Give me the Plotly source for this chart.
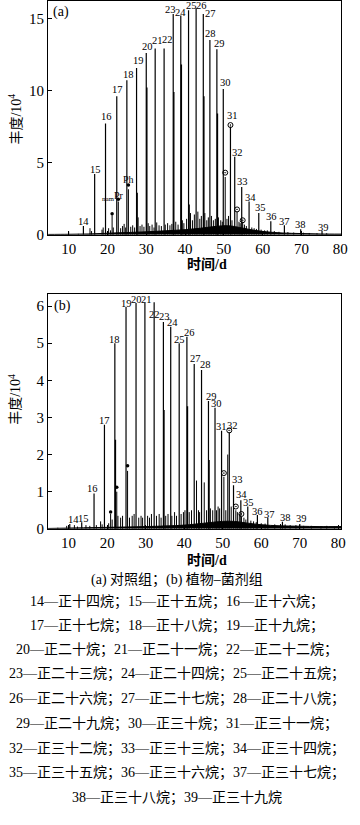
import plotly.graph_objects as go

# ---------------- data: panel (a) control group ----------------
alk_num = list(range(14, 40))
alk_a_t = [13.8, 16.7, 19.5, 22.4, 25.0, 27.5, 30.0, 32.3, 34.6, 36.95, 38.9, 40.9, 42.85,
           44.7, 46.4, 48.2, 49.85, 51.7, 52.8, 54.6, 56.5, 59.0, 62.1, 65.6, 69.8, 75.3]
alk_a_h = [0.6, 4.2, 7.7, 9.6, 10.7, 11.55, 12.6, 12.9, 12.9, 15.3, 15.2, 15.55, 15.7,
           15.3, 13.5, 12.85, 10.1, 7.5, 5.4, 3.3, 2.3, 1.5, 0.94, 0.66, 0.37, 0.25]

sub_a_t = [30.15, 37.1, 39.05, 44.85, 48.35, 27.65, 41.05]
sub_a_h = [10.2, 9.9, 11.8, 9.6, 8.4, 2.9, 2.1]

minor_a_t = [10.0, 12.5, 15.5, 15.9, 18.6, 18.9, 20.3, 20.8, 21.2, 21.5, 22.8, 23.4, 23.9, 24.3,
             24.7, 25.4, 26.0, 26.5, 27.0, 27.9, 28.4, 28.9, 29.4, 30.5, 30.9, 31.5, 32.0, 32.7,
             33.3, 33.9, 34.9, 35.5, 36.1, 36.6, 37.6, 38.2, 39.3, 39.7, 40.4, 41.4, 41.9, 42.4,
             43.3, 43.8, 44.2, 45.1, 45.6, 46.0, 46.8, 47.3, 47.8, 48.6, 49.2, 49.6, 50.35, 50.8,
             51.2, 52.1, 53.4, 53.9, 54.2, 54.85, 55.3, 55.8, 57.2, 57.8, 58.4, 59.6, 60.5, 61.2,
             63.0, 64.2, 66.5, 68.0, 70.5, 72.0, 74.0, 76.5]
minor_a_h = [0.22, 0.06, 0.45, 0.25, 0.35, 0.5, 0.45, 0.3, 1.35, 0.5, 2.3, 0.45, 0.6, 0.75,
             0.5, 3.15, 0.55, 0.65, 0.5, 1.2, 0.6, 0.7, 0.55, 0.8, 0.6, 0.7, 0.5, 0.85,
             0.65, 0.6, 0.7, 0.8, 0.65, 0.75, 0.9, 0.7, 1.0, 0.8, 1.1, 1.5, 1.0, 1.4,
             1.6, 1.1, 1.3, 1.5, 1.0, 1.2, 1.3, 1.0, 1.1, 1.2, 1.0, 0.9, 4.0, 1.1,
             1.3, 1.0, 1.6, 0.9, 0.8, 0.9, 0.7, 0.6, 0.5, 0.45, 0.4, 0.35, 0.3, 0.3,
             0.25, 0.2, 0.18, 0.15, 0.14, 0.12, 0.1, 0.1]

hump_a_t = [4.7, 10, 15, 20, 25, 30, 35, 40, 44, 47, 50, 52, 54, 56, 58, 61, 65, 70, 75, 80.2]
hump_a_h = [0.02, 0.03, 0.05, 0.1, 0.15, 0.2, 0.27, 0.35, 0.45, 0.55, 0.62, 0.6, 0.5, 0.4,
            0.3, 0.2, 0.12, 0.08, 0.05, 0.04]

circ_a_t = [50.35, 51.7, 53.4, 54.85]
circ_a_h = [4.3, 7.6, 1.75, 1.0]
dot_a_t = [21.2, 22.8, 25.4]
dot_a_h = [1.45, 2.45, 3.45]
other_a_lab = ["nam", "Pr", "Ph"]
other_a_t = [20.2, 23.1, 25.5]
other_a_h = [2.45, 2.75, 3.8]

# ---------------- data: panel (b) plant-microbial agent group ----------------
alk_b_t = [10.3, 13.4, 16.6, 19.3, 22.0, 24.9, 27.5, 29.8, 32.2, 34.6, 36.5, 38.7, 40.7,
           42.6, 44.5, 46.3, 48.0, 49.7, 51.7, 52.8, 54.7, 56.5, 59.0, 61.7, 65.5, 70.0]
alk_b_h = [0.13, 0.18, 0.95, 2.8, 5.0, 5.97, 6.08, 6.08, 6.1, 5.57, 5.44, 5.0, 5.17,
           4.44, 4.28, 3.44, 3.26, 2.64, 2.6, 1.17, 0.77, 0.6, 0.37, 0.29, 0.19, 0.13]

sub_b_t = [22.15, 34.75, 40.85, 46.45]
sub_b_h = [2.4, 3.2, 3.3, 1.85]

minor_b_t = [7.2, 9.5, 11.5, 12.3, 14.5, 15.5, 17.2, 18.3, 18.7, 20.4, 20.9, 21.3, 22.5, 22.8,
             23.5, 24.0, 25.3, 25.8, 26.5, 27.0, 28.2, 28.8, 29.2, 30.5, 31.0, 31.5, 32.8, 33.5,
             34.0, 35.2, 35.8, 36.8, 37.5, 38.0, 39.2, 39.8, 40.2, 41.3, 41.9, 43.2, 43.7, 44.0,
             45.2, 45.8, 46.8, 47.4, 48.4, 48.8, 49.2, 50.3, 50.8, 51.3, 52.2, 53.4, 53.8, 54.3,
             54.85, 55.5, 56.0, 57.3, 58.0, 58.7, 60.0, 61.0, 63.5, 65.0, 66.2, 67.5, 69.0, 71.0,
             73.0, 75.5, 77.0, 79.0]
minor_b_h = [0.03, 0.08, 0.1, 0.06, 0.1, 0.08, 0.1, 0.2, 0.12, 0.15, 0.4, 0.25, 1.0, 0.35,
             0.3, 0.35, 1.56, 0.3, 0.35, 0.4, 0.3, 0.35, 0.3, 0.35, 0.3, 0.4, 0.35, 0.4,
             0.3, 0.35, 0.4, 0.35, 0.45, 0.35, 0.4, 0.45, 0.5, 0.45, 0.5, 1.3, 0.5, 0.45,
             1.25, 0.5, 0.55, 0.5, 0.5, 0.6, 0.55, 1.4, 0.5, 2.0, 0.6, 0.5, 0.45, 0.4,
             0.32, 0.3, 0.25, 0.22, 0.2, 0.18, 0.15, 0.14, 0.12, 0.13, 0.12, 0.1, 0.1, 0.08,
             0.08, 0.07, 0.08, 0.07]

hump_b_t = [4.66, 20, 30, 40, 45, 50, 53, 56, 60, 65, 70, 75, 80.76]
hump_b_h = [0.01, 0.04, 0.06, 0.1, 0.15, 0.2, 0.2, 0.16, 0.11, 0.08, 0.07, 0.06, 0.06]

circ_b_t = [50.3, 51.7, 53.4, 54.85]
circ_b_h = [1.5, 2.65, 0.6, 0.4]
dot_b_t = [20.9, 22.5, 25.3]
dot_b_h = [0.45, 1.12, 1.7]

x_ticks = [10, 20, 30, 40, 50, 60, 70, 80]
ya_ticks = [0, 5, 10, 15]
yb_ticks = [0, 1, 2, 3, 4, 5, 6]

caption = [
    "(a) 对照组；(b) 植物–菌剂组",
    "14—正十四烷；15—正十五烷；16—正十六烷；",
    "17—正十七烷；18—正十八烷；19—正十九烷；",
    "20—正二十烷；21—正二十一烷；22—正二十二烷；",
    "23—正二十三烷；24—正二十四烷；25—正二十五烷；",
    "26—正二十六烷；27—正二十七烷；28—正二十八烷；",
    "29—正二十九烷；30—正三十烷；31—正三十一烷；",
    "32—正三十二烷；33—正三十三烷；34—正三十四烷；",
    "35—正三十五烷；36—正三十六烷；37—正三十七烷；",
    "38—正三十八烷；39—正三十九烷",
]

# ---------------- styling / placement (pixels) ----------------
W, H = 360, 825
SERIF = "Liberation Serif, Noto Sans CJK SC, serif"

# label offsets (dx, dy) in px from the peak top, per carbon number
lab_off_a = {14: (0, -5), 15: (1, -5), 16: (1, -7), 17: (1, -7), 18: (2, -6), 19: (2, -8),
             20: (1, -6), 21: (2, -8), 22: (3, -9), 23: (-3, -4), 24: (0, -3), 25: (3, -5),
             26: (5, -3), 27: (7, 0), 28: (1, -6), 29: (3, -6), 30: (2, -6), 31: (2, -11),
             32: (3, -4), 33: (1, -6), 34: (1, -4), 35: (2, -6), 36: (1, -5), 37: (0, -4),
             38: (0, -5), 39: (1, -4)}
lab_off_b = {14: (4, -4), 15: (2, -4), 16: (-2, -5), 17: (0, -4), 18: (0, -4), 19: (0, -4),
             20: (0, -4), 21: (2, -4), 22: (0, 12), 23: (1, -5), 24: (2, -4), 25: (0, -4),
             26: (3, -4), 27: (1, -5), 28: (4, -5), 29: (3, -5), 30: (1, -4), 31: (0, -4),
             32: (3, -7), 33: (4, -6), 34: (1, -6), 35: (1, -4), 36: (0, -4), 37: (2, -4),
             38: (3, -4), 39: (2, -5)}


def px_x(p):
    return p / W


def px_y(p):
    return 1 - p / H


def sticks(ts, hs):
    xs, ys = [], []
    for t, h in zip(ts, hs):
        xs += [t, t, None]
        ys += [0, h, None]
    return xs, ys


fig = go.Figure()

panels = [
    ("x", "y", alk_a_t, alk_a_h, sub_a_t, sub_a_h, minor_a_t, minor_a_h, hump_a_t, hump_a_h,
     circ_a_t, circ_a_h, dot_a_t, dot_a_h),
    ("x2", "y2", alk_b_t, alk_b_h, sub_b_t, sub_b_h, minor_b_t, minor_b_h, hump_b_t, hump_b_h,
     circ_b_t, circ_b_h, dot_b_t, dot_b_h),
]

for (xa, ya, at, ah, st, sh, mt, mh, ht, hh, ct, ch, dt, dh) in panels:
    fig.add_trace(go.Scatter(x=ht, y=hh, xaxis=xa, yaxis=ya, mode="lines", fill="tozeroy",
                             line=dict(color="black", width=1, shape="spline"),
                             fillcolor="black", hoverinfo="skip", showlegend=False))
    mx, my = sticks(mt, mh)
    fig.add_trace(go.Scatter(x=mx, y=my, xaxis=xa, yaxis=ya, mode="lines",
                             line=dict(color="black", width=1), showlegend=False))
    sx, sy = sticks(st, sh)
    fig.add_trace(go.Scatter(x=sx, y=sy, xaxis=xa, yaxis=ya, mode="lines",
                             line=dict(color="black", width=1.4), showlegend=False))
    axx, axy = sticks(at, ah)
    fig.add_trace(go.Scatter(x=axx, y=axy, xaxis=xa, yaxis=ya, mode="lines",
                             line=dict(color="black", width=1.2), showlegend=False))
    fig.add_trace(go.Scatter(x=ct, y=ch, xaxis=xa, yaxis=ya, mode="markers",
                             marker=dict(symbol="circle-open-dot", size=5, color="black",
                                         line=dict(width=1, color="black")),
                             showlegend=False))
    fig.add_trace(go.Scatter(x=dt, y=dh, xaxis=xa, yaxis=ya, mode="markers",
                             marker=dict(symbol="circle", size=3.5, color="black"),
                             showlegend=False))

ann = []
for n, t, h in zip(alk_num, alk_a_t, alk_a_h):
    dx, dy = lab_off_a[n]
    ann.append(dict(x=t, y=h, xref="x", yref="y", text=str(n), showarrow=False,
                    yanchor="middle", xanchor="center", xshift=dx, yshift=-dy,
                    font=dict(family=SERIF, size=10.5, color="black")))
for n, t, h in zip(alk_num, alk_b_t, alk_b_h):
    dx, dy = lab_off_b[n]
    ann.append(dict(x=t, y=h, xref="x2", yref="y2", text=str(n), showarrow=False,
                    yanchor="middle", xanchor="center", xshift=dx, yshift=-dy,
                    font=dict(family=SERIF, size=10.5, color="black")))
for lab, t, h in zip(other_a_lab, other_a_t, other_a_h):
    ann.append(dict(x=t, y=h, xref="x", yref="y", text=lab, showarrow=False,
                    yanchor="middle", xanchor="center",
                    font=dict(family=SERIF, size=(10 if lab != "nam" else 7), color="black")))

# panel letters
ann.append(dict(x=px_x(52), y=px_y(12), xref="paper", yref="paper", text="(a)", showarrow=False,
                xanchor="left", yanchor="middle", font=dict(family=SERIF, size=14, color="black")))
ann.append(dict(x=px_x(53), y=px_y(309), xref="paper", yref="paper", text="(b)", showarrow=False,
                xanchor="left", yanchor="middle", font=dict(family=SERIF, size=14, color="black")))

# axis titles
for yc in (120, 403):
    ann.append(dict(x=px_x(15), y=px_y(yc), xref="paper", yref="paper", text="丰度/10<sup>4</sup>",
                    showarrow=False, textangle=-90, xanchor="center", yanchor="middle",
                    font=dict(family=SERIF, size=14, color="black")))
for yc in (267, 566):
    ann.append(dict(x=px_x(211), y=px_y(yc), xref="paper", yref="paper", text="<b>时间/d</b>",
                    showarrow=False, xanchor="center", yanchor="middle",
                    font=dict(family=SERIF, size=14, color="black")))

# caption
cap_y = [586, 608, 632, 656, 681, 706, 731, 756, 781, 806]
for txt, yc in zip(caption, cap_y):
    ann.append(dict(x=0.5, y=px_y(yc), xref="paper", yref="paper", text=txt, showarrow=False,
                    xanchor="center", yanchor="middle",
                    font=dict(family=SERIF, size=14, color="black")))

axis_common = dict(showline=True, linecolor="black", linewidth=1, mirror=True, ticks="inside",
                   ticklen=4, tickcolor="black", showgrid=False, zeroline=False,
                   tickfont=dict(family=SERIF, size=15, color="black"))

fig.update_layout(
    width=W, height=H, margin=dict(l=0, r=0, t=0, b=0),
    paper_bgcolor="white", plot_bgcolor="white", showlegend=False, hovermode=False,
    xaxis=dict(domain=[px_x(49), px_x(348)], range=[4.69, 80.25], tickvals=x_ticks,
               anchor="y", **axis_common),
    yaxis=dict(domain=[px_y(237), px_y(1)], range=[0, 16.2], tickvals=ya_ticks,
               anchor="x", **axis_common),
    xaxis2=dict(domain=[px_x(49), px_x(348)], range=[4.66, 80.76], tickvals=x_ticks,
                anchor="y2", **axis_common),
    yaxis2=dict(domain=[px_y(534), px_y(297)], range=[0, 6.32], tickvals=yb_ticks,
                anchor="x2", **axis_common),
    annotations=ann,
)

fig.write_html("out.html", config={"displayModeBar": False},
               post_script="document.body.style.margin='0';")
